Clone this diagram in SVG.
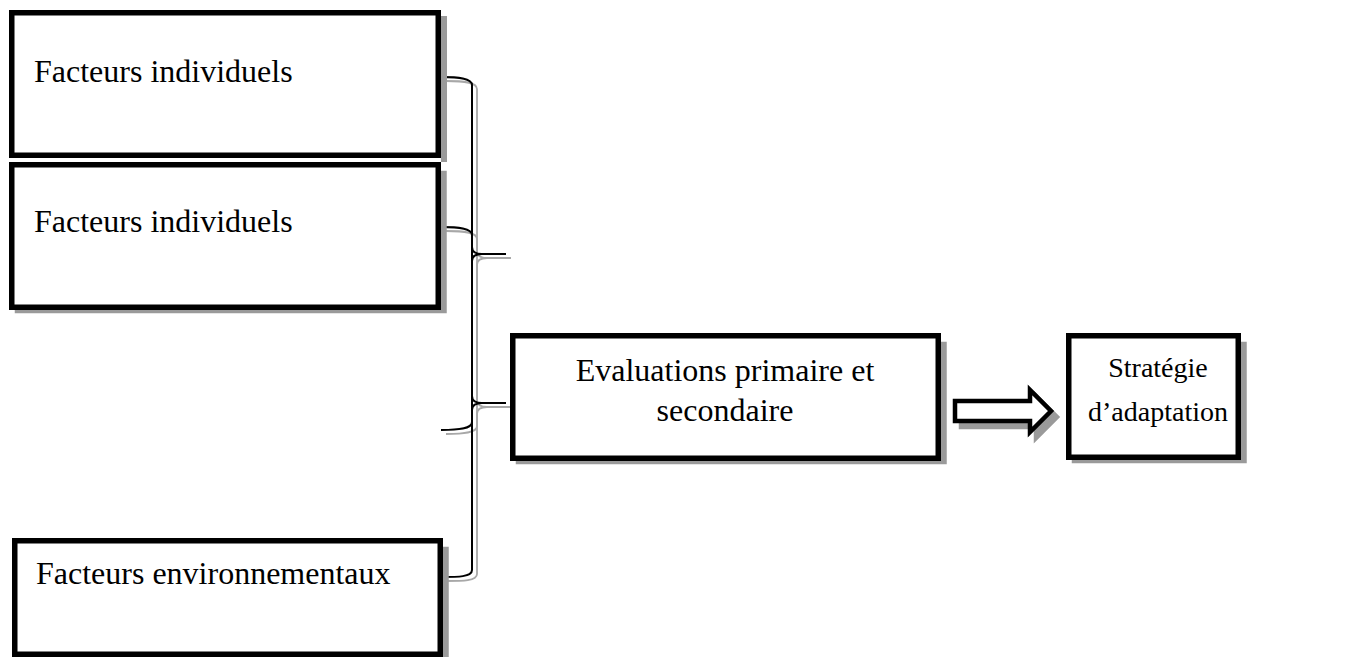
<svg xmlns="http://www.w3.org/2000/svg" width="1349" height="657" viewBox="0 0 1349 657">
  <style>
    .box { fill: #ffffff; stroke: #000000; stroke-width: 5.5; }
    .shadow { fill: #9a9a9a; stroke: none; }
    .label { font-family: "Liberation Serif", "Times New Roman", serif; font-size: 32px; fill: #000000; }
    .small { font-size: 28px; }
    .mid { text-anchor: middle; }
    .brace { fill: none; stroke: #000000; stroke-width: 2; }
    .brace-shadow { fill: none; stroke: #a8a8a8; stroke-width: 1.8; }
    .arrow { fill: #ffffff; stroke: #000000; stroke-width: 4.5; stroke-linejoin: miter; }
    .arrow-shadow { fill: #9a9a9a; stroke: #9a9a9a; stroke-width: 4.5; }
  </style>
  <defs>
    <!-- right-hand curly braces: arms on the left, tip pointing right -->
    <path id="braceA" d="M441,77 C458,77 472,78 472,85 L472,247 C472,252 476,254 482,254 L506,254 M482,254 C476,254 472,256 472,261 L472,422 C472,429 458,430 441,430"/>
    <path id="braceB" d="M441,227 C458,227 472,228 472,235 L472,396 C472,401 476,403 482,403 L506,403 M482,403 C476,403 472,405 472,410 L472,570 C472,577 458,577 441,577"/>
    <polygon id="block-arrow" points="955,401 1030,401 1030,390 1051,411 1030,432 1030,421 955,421"/>
  </defs>

  <rect width="1349" height="657" fill="#ffffff"/>

  <!-- connectors: two overlapping braces and the block arrow -->
  <g id="connectors">
    <use href="#braceA" class="brace-shadow" transform="translate(5,4)"/>
    <use href="#braceB" class="brace-shadow" transform="translate(5,4)"/>
    <use href="#braceA" class="brace"/>
    <use href="#braceB" class="brace"/>
    <use href="#block-arrow" class="arrow-shadow" transform="translate(6,6)"/>
    <use href="#block-arrow" class="arrow"/>
  </g>

  <g id="node-individuels-1">
    <!-- only the right-hand side of this shadow shows; the box below covers the rest -->
    <rect class="shadow" x="441" y="16" width="6" height="146"/>
    <rect class="box" x="11.75" y="12.75" width="426.5" height="142.5"/>
    <text class="label" x="34" y="82">Facteurs individuels</text>
  </g>

  <g id="node-individuels-2">
    <rect class="shadow" x="14.75" y="170.75" width="432" height="142.5"/>
    <rect class="box" x="11.75" y="164.75" width="426.5" height="142.5"/>
    <text class="label" x="34" y="232">Facteurs individuels</text>
  </g>

  <g id="node-environnementaux">
    <rect class="shadow" x="17.75" y="546.75" width="431" height="120"/>
    <rect class="box" x="14.75" y="540.75" width="425.5" height="113.5"/>
    <text class="label" x="36" y="584">Facteurs environnementaux</text>
  </g>

  <g id="node-evaluations">
    <rect class="shadow" x="515.75" y="341.75" width="431" height="122.5"/>
    <rect class="box" x="512.75" y="335.75" width="425.5" height="122.5"/>
    <text class="label mid" x="725" y="381">Evaluations primaire et</text>
    <text class="label mid" x="725" y="421">secondaire</text>
  </g>

  <g id="node-strategie">
    <rect class="shadow" x="1071.75" y="341.75" width="175" height="121.5"/>
    <rect class="box" x="1068.75" y="335.75" width="169.5" height="121.5"/>
    <text class="label small mid" x="1158" y="377">Stratégie</text>
    <text class="label small mid" x="1158" y="421">d’adaptation</text>
  </g>
</svg>
